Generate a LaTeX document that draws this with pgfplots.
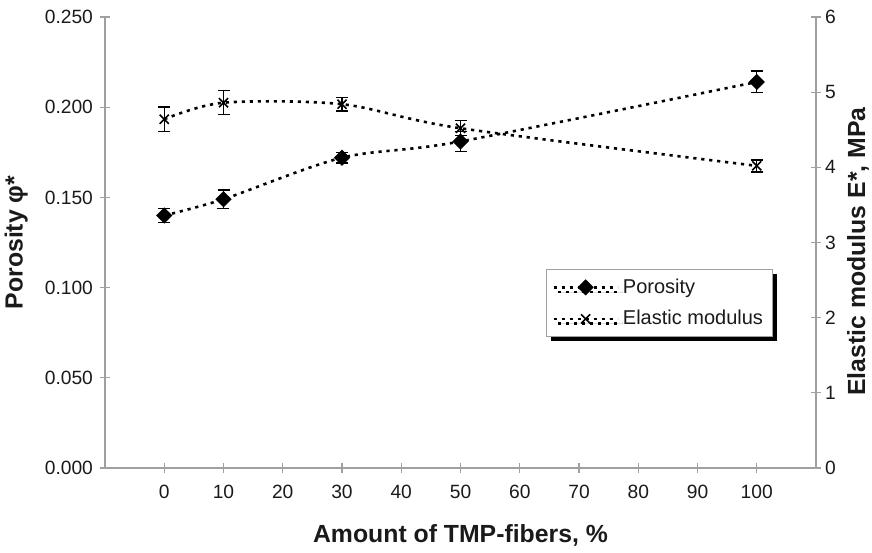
\documentclass[border=0pt]{standalone}
\usepackage{fontspec}
\setmainfont{Liberation Sans}
\usepackage{pgfplots}
\pgfplotsset{compat=1.18}
\usetikzlibrary{shadows}
\definecolor{axgray}{HTML}{A0A0A0}
\definecolor{txt}{HTML}{1A1A1A}

\pgfplotsset{
  common/.style={
    at={(0,0)}, anchor=south west,
    scale only axis, width=355.5pt, height=225.5pt,
    xmin=-10, xmax=110,
    clip=false,
    axis line style={draw=axgray, line width=0.6pt, -},
    tick align=center, major tick length=5pt,
    tick style={draw=axgray, line width=0.6pt},
    tick label style={font=\fontsize{9.6}{11}\selectfont, text=txt},
    /pgf/number format/assume math mode=true,
    label style={font=\bfseries\fontsize{12.4}{14}\selectfont, text=txt},
  },
  dline/.style={black, line width=1.3pt, dash pattern=on 1.6pt off 2.4pt, smooth, tension=0.5},
  ebars/.style={error bars/.cd, y dir=both, y explicit,
    error bar style={black, line width=0.7pt, solid},
    error mark options={rotate=90, black, line width=0.7pt, mark size=3pt, solid}},
}

\begin{document}
\begin{tikzpicture}
\begin{axis}[common,
  ymin=0, ymax=0.25,
  axis x line*=bottom, axis y line*=left,
  xtick={0,10,20,30,40,50,60,70,80,90,100},
  ytick={0,0.05,0.1,0.15,0.2,0.25},
  scaled y ticks=false,
  xticklabel style={yshift=-2.5pt},
  yticklabel style={/pgf/number format/.cd, fixed, fixed zerofill, precision=3},
  xlabel={Amount of TMP-fibers, \%},
  ylabel={Porosity φ*},
  xlabel style={at={(rel axis cs:0.5,-0.15)}, anchor=center},
  ylabel style={at={(rel axis cs:-0.125,0.5)}, anchor=center, rotate=0},
]
\addplot[dline, mark=square*, mark size=2.2pt, mark options={solid, fill=black, rotate=45}, ebars]
  coordinates {
  (0,0.140) +- (0,0.004)
  (10,0.149) +- (0,0.005)
  (30,0.172) +- (0,0.003)
  (50,0.181) +- (0,0.0055)
  (100,0.214) +- (0,0.006)
  };
\end{axis}
\begin{axis}[common,
  ymin=0, ymax=6,
  axis x line=none, axis y line*=right,
  ytick={0,1,2,3,4,5,6},
  yticklabel style={xshift=-1.5pt},
  ylabel={Elastic modulus E*, MPa},
  ylabel style={at={(rel axis cs:1.059,0.48)}, anchor=center, rotate=0},
  legend style={at={(rel axis cs:0.620,0.441)}, anchor=north west,
    draw=axgray, fill=white, line width=0.5pt,
    font=\fontsize{10}{11}\selectfont, text=txt,
    inner xsep=3pt, inner ysep=2.5pt, row sep=3pt,
    drop shadow={shadow xshift=2.2pt, shadow yshift=-2.4pt, fill=black, opacity=1}},
  legend cell align=left,
  legend image code/.code={
    \draw[mark repeat=2, mark phase=2, #1] plot coordinates {(0pt,0pt) (16pt,0pt) (32pt,0pt)};
  },
]
\addlegendimage{black, line width=1.3pt, dash pattern=on 1.6pt off 2.4pt, mark=square*, mark size=2.2pt, mark options={solid, fill=black, rotate=45}}
\addlegendentry{Porosity}
\addplot[dline, mark=x, mark size=3.2pt, mark options={solid, line width=0.8pt}, ebars]
  coordinates {
  (0,4.64) +- (0,0.165)
  (10,4.86) +- (0,0.16)
  (30,4.84) +- (0,0.09)
  (50,4.52) +- (0,0.10)
  (100,4.02) +- (0,0.08)
  };
\addlegendentry{Elastic modulus}
\end{axis}
\pgfresetboundingbox
\path (-52.5pt,-42pt) rectangle (383.5pt,234pt);
\end{tikzpicture}
\end{document}
